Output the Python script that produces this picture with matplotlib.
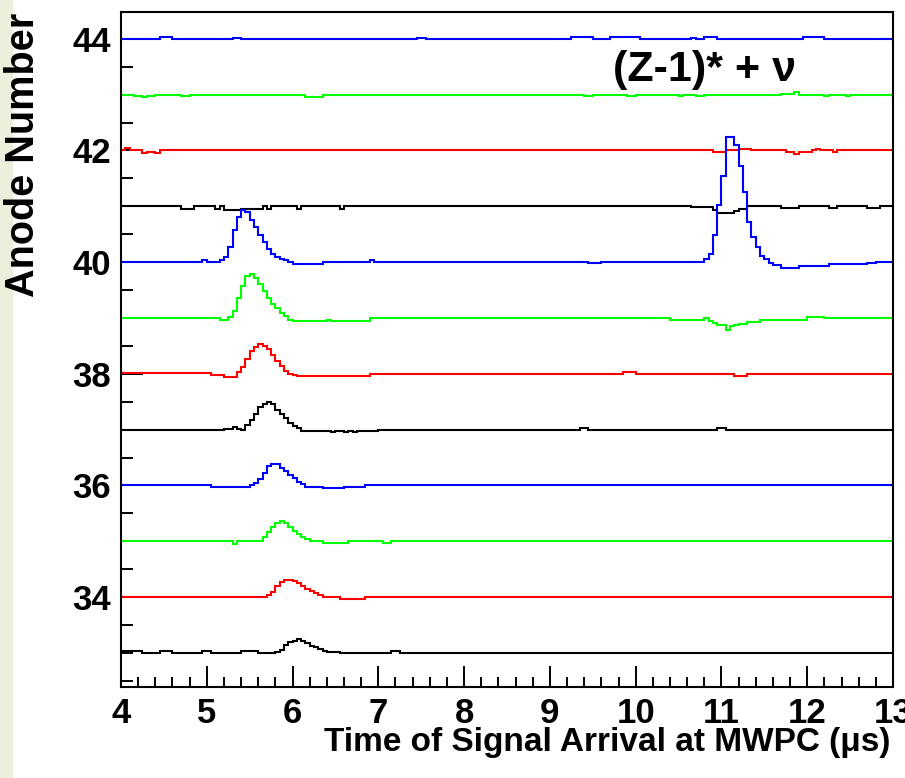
import numpy as np
import matplotlib.pyplot as plt
from matplotlib.patches import Rectangle
from matplotlib.ticker import MultipleLocator

plt.rcParams['font.family'] = ['Liberation Sans', 'DejaVu Sans']
plt.rcParams['font.weight'] = 'bold'

# time axis binning (us)
t_lo, t_hi, n_bins = 4.0, 13.0, 180

anodes = [44, 43, 42, 41, 40, 39, 38, 37, 36, 35, 34, 33]
trace_colors = ['#0000ff', '#00ff00', '#ff0000', '#000000'] * 3

# peaks: (start time, per-bin offset above the anode baseline)
peaks_40 = [(5.15, [0.03, 0.09, 0.27, 0.57, 0.81, 0.94, 0.90, 0.75, 0.63, 0.48, 0.36, 0.24, 0.15, 0.09, 0.05, 0.03, 0.0]),
            (10.75, [0.01, 0.06, 0.15, 0.48, 1.02, 1.55, 2.24, 2.24, 2.09, 1.73, 1.25, 0.72, 0.45, 0.27, 0.11, 0.05, -0.01])]
peaks_39 = [(5.25, [0.01, 0.12, 0.36, 0.57, 0.75, 0.79, 0.72, 0.60, 0.48, 0.36, 0.25, 0.18, 0.09, 0.03, -0.03])]
peaks_38 = [(5.35, [0.03, 0.12, 0.27, 0.41, 0.48, 0.54, 0.50, 0.45, 0.33, 0.23, 0.14, 0.05, -0.01, -0.03])]
peaks_37 = [(5.45, [0.08, 0.18, 0.28, 0.40, 0.46, 0.50, 0.45, 0.36, 0.28, 0.20, 0.12, 0.07, 0.03])]
peaks_36 = [(5.50, [0.01, 0.04, 0.12, 0.22, 0.34, 0.38, 0.38, 0.32, 0.26, 0.19, 0.13, 0.07, 0.02])]
peaks_35 = [(5.60, [0.01, 0.07, 0.16, 0.26, 0.33, 0.37, 0.32, 0.25, 0.19, 0.13, 0.07, 0.04, 0.01])]
peaks_34 = [(5.70, [0.03, 0.09, 0.20, 0.27, 0.30, 0.30, 0.29, 0.25, 0.20, 0.15, 0.11, 0.07, 0.03])]
peaks_33 = [(5.80, [0.01, 0.06, 0.15, 0.19, 0.22, 0.25, 0.21, 0.17, 0.13, 0.10, 0.07, 0.04, 0.02, 0.02, 0.02])]

# baseline wiggles: (from, to, offset)
steps_44 = [(4.45, 4.6, 0.03), (5.3, 5.4, 0.02), (7.45, 7.55, 0.02), (9.25, 9.35, 0.04), (9.35, 9.5, 0.03),
            (9.7, 9.85, 0.03), (9.85, 10.05, 0.04), (10.65, 10.7, 0.02), (10.8, 10.95, 0.04), (11.95, 12.2, 0.04)]
steps_43 = [(4.15, 4.25, -0.03), (4.25, 4.3, -0.05), (4.3, 4.4, -0.03), (4.7, 4.8, -0.03), (6.15, 6.35, -0.04),
            (9.4, 9.5, -0.03), (9.9, 10.0, -0.03), (10.5, 10.55, -0.03), (10.7, 10.8, -0.03), (11.7, 11.85, 0.01),
            (11.85, 11.9, 0.04), (12.2, 12.25, -0.03), (12.45, 12.5, -0.03)]
steps_42 = [(4.05, 4.1, 0.04), (4.25, 4.3, -0.04), (4.3, 4.4, -0.02), (4.4, 4.45, -0.04), (10.9, 11.05, -0.03),
            (11.2, 11.35, 0.03), (11.75, 11.85, -0.03), (11.85, 11.9, -0.06), (11.9, 12.05, -0.02),
            (12.1, 12.15, 0.03), (12.3, 12.35, -0.03)]
steps_41 = [(4.7, 4.85, -0.04), (5.1, 5.15, -0.04), (5.2, 5.4, -0.06), (5.4, 5.5, -0.05), (5.5, 5.65, -0.04),
            (5.7, 5.75, -0.04), (6.05, 6.1, -0.04), (6.55, 6.6, -0.04), (10.65, 10.9, -0.02), (10.9, 10.95, -0.06),
            (10.95, 11.15, -0.12), (11.15, 11.2, -0.08), (11.2, 11.3, -0.04), (11.7, 11.9, -0.03),
            (12.25, 12.35, -0.03), (12.7, 12.85, -0.03)]
steps_40 = [(4.95, 5.0, 0.03), (6.0, 6.35, -0.04), (6.9, 6.95, 0.03), (9.45, 9.6, -0.02), (11.6, 11.7, -0.06),
            (11.7, 11.9, -0.10), (11.9, 12.25, -0.07), (12.25, 12.7, -0.04), (12.7, 12.8, -0.01)]
steps_39 = [(5.15, 5.25, -0.03), (6.0, 6.4, -0.06), (6.4, 6.45, -0.03), (6.45, 6.9, -0.05), (10.4, 10.8, -0.03),
            (10.85, 10.9, -0.05), (10.9, 10.95, -0.09), (10.95, 11.05, -0.13), (11.05, 11.1, -0.21),
            (11.1, 11.15, -0.15), (11.15, 11.2, -0.12), (11.2, 11.3, -0.10), (11.3, 11.45, -0.07),
            (11.45, 12.0, -0.03), (12.0, 12.2, 0.01)]
steps_38 = [(4.0, 5.05, 0.01), (5.05, 5.2, -0.02), (5.2, 5.35, -0.05), (6.05, 6.9, -0.04), (9.85, 10.0, 0.04),
            (11.15, 11.3, -0.04)]
steps_37 = [(5.2, 5.3, 0.02), (5.3, 5.35, 0.05), (5.35, 5.4, 0.02), (5.4, 5.45, -0.01), (6.1, 7.0, -0.02),
            (6.45, 6.5, -0.05), (6.6, 6.65, -0.05), (6.7, 6.75, -0.05), (9.35, 9.45, 0.03), (10.95, 11.05, 0.03)]
steps_36 = [(4.0, 5.05, 0.01), (5.05, 5.5, -0.02), (6.15, 6.35, -0.02), (6.35, 6.6, -0.05), (6.6, 6.85, -0.02),
            (6.85, 7.0, 0.01)]
steps_35 = [(5.3, 5.35, -0.04), (6.35, 6.65, -0.03), (7.05, 7.15, -0.03)]
steps_34 = [(6.55, 6.85, -0.03)]
steps_33 = [(4.0, 4.25, 0.03), (4.45, 4.6, 0.03), (4.95, 5.05, 0.03), (5.4, 5.6, 0.03), (7.15, 7.25, 0.03)]

trace_steps = [steps_44, steps_43, steps_42, steps_41, steps_40, steps_39,
               steps_38, steps_37, steps_36, steps_35, steps_34, steps_33]
trace_peaks = [[], [], [], [], peaks_40, peaks_39, peaks_38, peaks_37, peaks_36, peaks_35, peaks_34, peaks_33]

edges = np.linspace(t_lo, t_hi, n_bins + 1)
centers = 0.5 * (edges[:-1] + edges[1:])
bw = edges[1] - edges[0]


def build_trace(steps, peaks):
    v = np.zeros(n_bins)
    for x0, x1, dy in steps:
        v[(centers > x0) & (centers < x1)] = dy
    for t0, vals in peaks:
        i = int(round((t0 - t_lo) / bw))
        v[i:i + len(vals)] = vals
    return v


fig = plt.figure(figsize=(9.05, 7.78), dpi=100)
fig.add_artist(Rectangle((0, 0), 12 / 905, 1, transform=fig.transFigure, color='#eeeedc', zorder=0))
ax = fig.add_axes([121 / 905, 1 - 687 / 778, 772 / 905, 675 / 778])

for a, c, st, pk in zip(anodes, trace_colors, trace_steps, trace_peaks):
    ax.stairs(a + build_trace(st, pk), edges, baseline=None, color=c, lw=1.5, zorder=3)

ax.set_xlim(t_lo, t_hi)
ax.set_ylim(32.39, 44.48)
ax.set_xticks(range(4, 14))
ax.xaxis.set_minor_locator(MultipleLocator(0.2))
ax.set_yticks(range(34, 45, 2))
ax.yaxis.set_minor_locator(MultipleLocator(0.5))
ax.tick_params(axis='x', which='major', direction='in', length=15, width=1.4, labelsize=25, pad=7)
ax.tick_params(axis='x', which='minor', direction='in', length=7, width=1.4)
ax.tick_params(axis='y', which='major', direction='in', length=16, width=1.4, labelsize=25, pad=7)
ax.tick_params(axis='y', which='minor', direction='in', length=8.5, width=1.4)
for s in ax.spines.values():
    s.set_linewidth(1.5)
    s.set_zorder(4)

ax.text(9.73, 43.25, '(Z-1)* + ν', fontsize=31, fontweight='bold', va='baseline')

fig.text(890 / 905, 1 - 751 / 778, 'Time of Signal Arrival at MWPC (μs)', ha='right', va='baseline',
         fontsize=24, fontweight='bold')
fig.text(23 / 905, 1 - 13 / 778, 'Anode Number', rotation=90, ha='center', va='top',
         fontsize=28.5, fontweight='bold')

fig.savefig('out.png', dpi=100)
